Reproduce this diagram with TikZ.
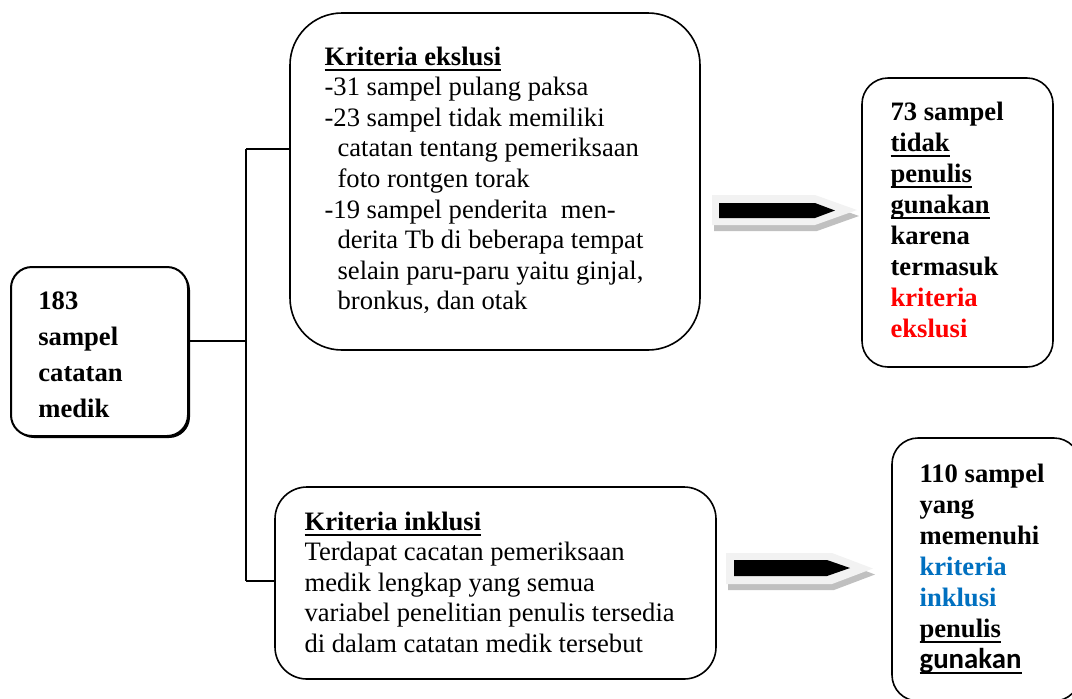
\documentclass[tikz,border=0pt]{standalone}
\usepackage{fontspec}
\setmainfont{Liberation Serif}
\newfontfamily\calibri{Carlito}
\usepackage{tikz}
\usetikzlibrary{positioning,shadows}

\definecolor{merah}{RGB}{255,0,0}
\definecolor{biru}{RGB}{0,112,192}
\definecolor{abumuda}{RGB}{242,242,242}
\definecolor{abutua}{RGB}{192,192,192}
% garis bawah tebal
\newcommand{\gb}[1]{\setbox0\hbox{#1}\rlap{\rule[-2.8pt]{\wd0}{1pt}}\box0}

\begin{document}
\begin{tikzpicture}[x=0.5pt, y=-0.5pt,
	kotak/.style={draw, fill=white, line width=0.8pt, rounded corners=#1, inner sep=0pt},
	teks/.style={inner sep=0pt, align=left, font=\fontsize{13.3}{15.3}\selectfont},
	garis/.style={line width=0.75pt}]
	\useasboundingbox (0,0) rectangle (1072,698);

	% Kotak-kotak
	\node[kotak=10.5pt, line width=1pt, minimum width=88.5pt, minimum height=84.5pt,
		drop shadow={shadow xshift=1pt, shadow yshift=-1pt, fill=black, opacity=1}] (sumber) at (99.5,351.5) {};
	\node[kotak=26pt, minimum width=205pt, minimum height=168.5pt] (eks) at (495,181.5) {};
	\node[kotak=16pt, minimum width=220.5pt, minimum height=96pt] (ink) at (495.5,583) {};
	\node[kotak=13pt, minimum width=95.5pt, minimum height=144.5pt] (tolak) at (957.5,222.5) {};
	\node[kotak=13pt, minimum width=94pt, minimum height=131.5pt] (pakai) at (986,569.5) {};

	% Teks di dalam kotak
	\node[teks, font=\fontsize{13.3}{18}\selectfont\bfseries, below right=12.5pt and 14pt of sumber.north west] (tsumber)
		{183\\sampel\\catatan\\medik};
	\node[teks, below right=17pt and 17.5pt of eks.north west] (teks)
		{\gb{\textbf{Kriteria ekslusi}}\\
		-31 sampel pulang paksa\\
		-23 sampel tidak memiliki\\
		\hspace*{6.5pt}catatan tentang pemeriksaan\\
		\hspace*{6.5pt}foto rontgen torak\\
		-19 sampel penderita\ \ men-\\
		\hspace*{6.5pt}derita Tb di beberapa tempat\\
		\hspace*{6.5pt}selain paru-paru yaitu ginjal,\\
		\hspace*{6.5pt}bronkus, dan otak};
	\node[teks, below right=12.5pt and 15pt of ink.north west] (tink)
		{\gb{\textbf{Kriteria inklusi}}\\
		Terdapat cacatan pemeriksaan\\
		medik lengkap yang semua\\
		variabel penelitian penulis tersedia\\
		di dalam catatan medik tersebut};
	\node[teks, font=\fontsize{13.3}{15.5}\selectfont\bfseries, below right=12pt and 14.5pt of tolak.north west] (ttolak)
		{73 sampel\\ \gb{tidak}\\ \gb{penulis}\\ \gb{gunakan}\\ karena\\ termasuk\\
		\textcolor{merah}{kriteria}\\ \textcolor{merah}{ekslusi}};
	\node[teks, font=\fontsize{13.3}{15.5}\selectfont\bfseries, below right=13pt and 14pt of pakai.north west] (tpakai)
		{110 sampel\\ yang\\ memenuhi\\ \textcolor{biru}{kriteria}\\ \textcolor{biru}{inklusi}\\ \gb{penulis}\\
		\gb{\calibri\fontsize{14.4}{15.5}\selectfont gunakan}};

	% Garis penghubung
	\coordinate (atas) at (246,149);
	\coordinate (tengah) at (246,341);
	\coordinate (bawah) at (246,581);
	\draw[garis] (atas) -- (bawah);
	\draw[garis] (tengah) -- (tengah -| sumber.east);
	\draw[garis] (atas) -- (atas -| eks.west);
	\draw[garis] (bawah) -- (bawah -| ink.west);

	% Panah blok atas
	\fill[abutua] (714,201) -- (817,201) -- (859,216) -- (817,231) -- (714,231) -- cycle;
	\fill[abumuda] (712,195) -- (815,195) -- (857,210) -- (815,225) -- (712,225) -- cycle;
	\fill[black] (719,203) -- (815,203) -- (835,210.5) -- (815,218) -- (719,218) -- cycle;

	% Panah blok bawah
	\fill[abutua] (728,559) -- (834,559) -- (875,574.5) -- (834,590) -- (728,590) -- cycle;
	\fill[abumuda] (726,553) -- (832,553) -- (873,568.5) -- (832,584) -- (726,584) -- cycle;
	\fill[black] (734,560) -- (827,560) -- (850,568) -- (827,576) -- (734,576) -- cycle;
\end{tikzpicture}
\end{document}
